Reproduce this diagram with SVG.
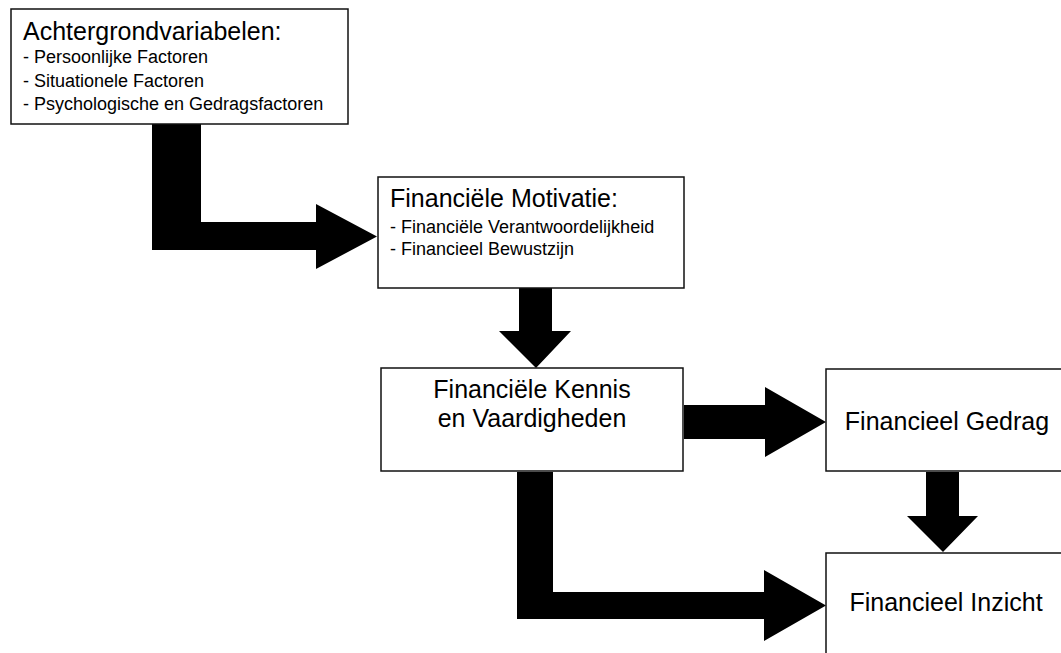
<svg xmlns="http://www.w3.org/2000/svg" width="1061" height="653" viewBox="0 0 1061 653">
<style>
.box{fill:#fff;stroke:#111;stroke-width:1.5}
.arr{fill:#000;stroke:none}
.t{font-family:"Liberation Sans",Arial,sans-serif;fill:#000}
.h{font-size:25px}
.s{font-size:18px}
.c{text-anchor:middle}
</style>
<rect width="1061" height="653" fill="#fff"/>
<g id="connectors">
<polygon class="arr" points="152,124 201,124 201,222 316,222 316,204 377,236.5 316,269 316,250 152,250"/>
<polygon class="arr" points="519,288 552,288 552,331 571,331 536,368 499,331 519,331"/>
<polygon class="arr" points="684,405 765,405 765,387 826,422 765,457 765,439 684,439"/>
<polygon class="arr" points="926,472 959,472 959,516 978,516 943,552 907,516 926,516"/>
<polygon class="arr" points="517,472 553,472 553,592 764,592 764,570 826,605.5 764,641 764,619 517,619"/>
</g>
<g id="achtergrond">
<rect class="box" x="11" y="9" width="337" height="115"/>
<text class="t h" x="23" y="40">Achtergrondvariabelen:</text>
<text class="t s" x="23" y="63">- Persoonlijke Factoren</text>
<text class="t s" x="23" y="87">- Situationele Factoren</text>
<text class="t s" x="23" y="110">- Psychologische en Gedragsfactoren</text>
</g>
<g id="motivatie">
<rect class="box" x="378" y="177" width="306" height="111"/>
<text class="t h" x="390" y="207">Financiële Motivatie:</text>
<text class="t s" x="390" y="233">- Financiële Verantwoordelijkheid</text>
<text class="t s" x="390" y="255">- Financieel Bewustzijn</text>
</g>
<g id="kennis">
<rect class="box" x="381" y="368" width="302" height="103"/>
<text class="t h c" x="532" y="398">Financiële Kennis</text>
<text class="t h c" x="532" y="427">en Vaardigheden</text>
</g>
<g id="gedrag">
<rect class="box" x="826" y="369" width="244" height="102"/>
<text class="t h c" x="947" y="430">Financieel Gedrag</text>
</g>
<g id="inzicht">
<rect class="box" x="826" y="553" width="244" height="120"/>
<text class="t h c" x="946" y="611">Financieel Inzicht</text>
</g>
</svg>
